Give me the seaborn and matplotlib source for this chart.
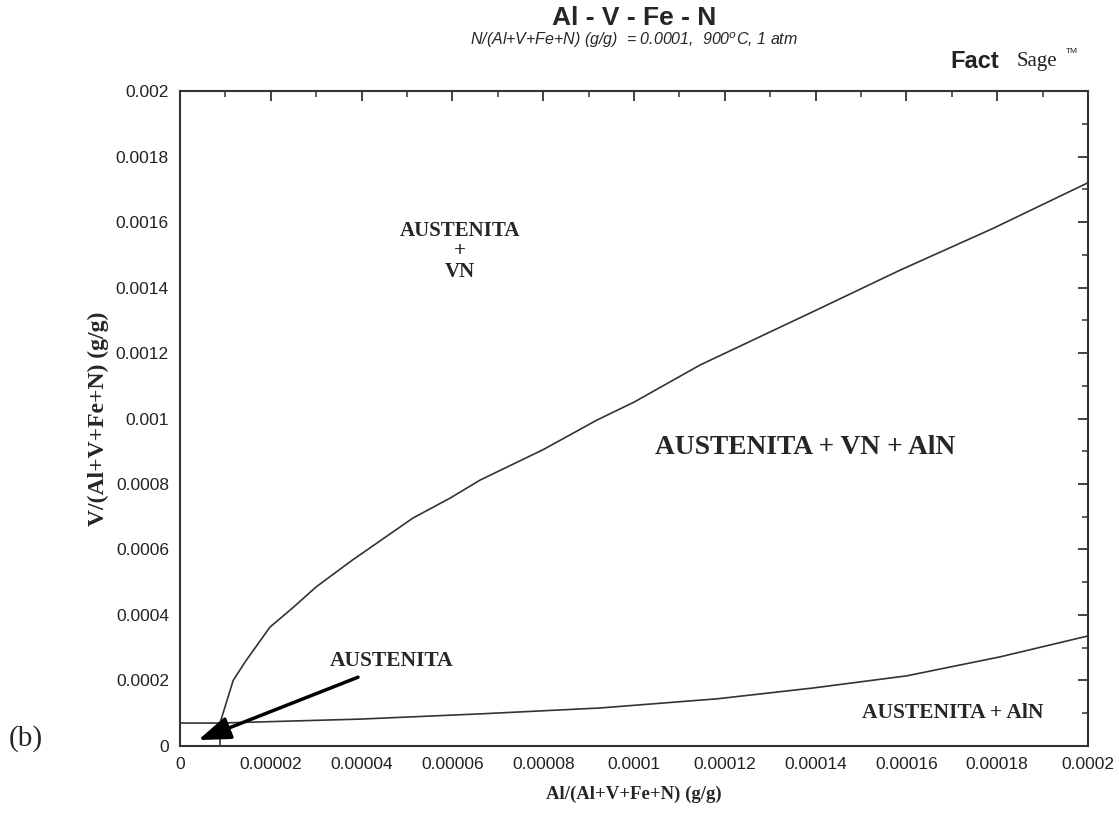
import matplotlib
matplotlib.use("Agg")
import matplotlib.pyplot as plt
import seaborn as sns
import pandas as pd
from matplotlib.ticker import MultipleLocator, FuncFormatter

# boundary AUSTENITA+VN / AUSTENITA+VN+AlN
upper_x = [0.0000088, 0.0000117, 0.0000143, 0.0000198, 0.000025, 0.00003, 0.000038,
           0.0000513, 0.0000595, 0.0000661, 0.00008, 0.0000918, 0.0001, 0.0001145,
           0.00014, 0.0001586, 0.000179, 0.0002]
upper_y = [0.00007, 0.0002, 0.000256, 0.000363, 0.000424, 0.000486, 0.000568,
           0.000696, 0.000757, 0.000812, 0.000905, 0.000995, 0.00105, 0.001163,
           0.00133, 0.001453, 0.00158, 0.00172]

# boundary AUSTENITA(+AlN) / AUSTENITA+VN+AlN
lower_x = [0.0, 0.0000088, 0.0000396, 0.0000661, 0.0000925, 0.0001183, 0.0001394,
           0.00016, 0.0001806, 0.0002]
lower_y = [0.00007, 0.00007, 0.000082, 0.000098, 0.000116, 0.000144, 0.000177,
           0.000214, 0.000272, 0.000336]

# small single-phase field edge
edge_x = [0.0000088, 0.0000088]
edge_y = [0.0, 0.00007]

df = pd.concat([
    pd.DataFrame({"al": upper_x, "v": upper_y, "curve": "upper"}),
    pd.DataFrame({"al": lower_x, "v": lower_y, "curve": "lower"}),
    pd.DataFrame({"al": edge_x, "v": edge_y, "curve": "edge"}),
])

sns.set_theme(style="white")
plt.rcParams["font.family"] = ["Liberation Sans", "DejaVu Sans"]

fig = plt.figure(figsize=(11.19, 8.15), dpi=100)
ax = fig.add_axes([0.1609, 0.0847, 0.8114, 0.8036])

sns.lineplot(data=df, x="al", y="v", units="curve", estimator=None, sort=False,
             color="#333333", linewidth=1.2, ax=ax)

ax.set_xlim(0, 0.0002)
ax.set_ylim(0, 0.002)
ax.xaxis.set_major_locator(MultipleLocator(0.00002))
ax.xaxis.set_minor_locator(MultipleLocator(0.00001))
ax.yaxis.set_major_locator(MultipleLocator(0.0002))
ax.yaxis.set_minor_locator(MultipleLocator(0.0001))
fmt = FuncFormatter(lambda v, p: "0" if abs(v) < 1e-12 else ("%.5f" % v).rstrip("0"))
ax.xaxis.set_major_formatter(fmt)
ax.yaxis.set_major_formatter(fmt)
ax.tick_params(which="both", direction="in", top=True, right=True,
               colors="#333333", labelcolor="#222222", labelsize=12.5)
ax.tick_params(which="major", length=7, width=1.3, pad=8)
ax.tick_params(which="minor", length=4, width=1.1)
for s in ax.spines.values():
    s.set_color("#333333")
    s.set_linewidth(1.5)

serif = ["Liberation Serif", "DejaVu Serif"]
ax.set_xlabel("Al/(Al+V+Fe+N) (g/g)", family=serif, fontweight="bold", fontsize=13.5, labelpad=10)
ax.set_ylabel("V/(Al+V+Fe+N) (g/g)", family=serif, fontweight="bold", fontsize=17, labelpad=5)

fig.text(0.5667, 0.969, "Al - V - Fe - N", ha="center", va="baseline", fontsize=19,
         fontweight="bold")
fig.text(0.5667, 0.9445, "N/(Al+V+Fe+N) (g/g)  = 0.0001,  900$^{o}$C, 1 atm", ha="center",
         va="baseline", fontsize=11.5, style="italic")
fig.text(0.871, 0.925, "Fact", ha="center", va="center", fontsize=17, fontweight="heavy",
         color="#222222")
fig.text(0.927, 0.925, "Sage", ha="center", va="center", fontsize=15, family=serif,
         color="#222222")
fig.text(0.958, 0.937, "TM", ha="center", va="center", fontsize=6, color="#222222")

ax.text(0.0000617, 0.00151, "AUSTENITA\n+\nVN", ha="center", va="center", family=serif,
        fontweight="bold", fontsize=15, linespacing=1.05)
ax.text(0.0001377, 0.00091, "AUSTENITA + VN + AlN", ha="center", va="center", family=serif,
        fontweight="bold", fontsize=19.8)
ax.text(0.0000467, 0.00026, "AUSTENITA", ha="center", va="center", family=serif,
        fontweight="bold", fontsize=15.5)
ax.text(0.0001703, 0.0001, "AUSTENITA + AlN", ha="center", va="center", family=serif,
        fontweight="bold", fontsize=15.5)
ax.annotate("", xy=(0.000004, 0.000018), xytext=(0.0000392, 0.00021),
            arrowprops=dict(arrowstyle="-|>,head_length=1.4,head_width=0.5", color="black",
                            lw=2.5, shrinkA=0, shrinkB=0, mutation_scale=14))

fig.text(0.008, 0.094, "(b)", family=serif, fontsize=21, va="center")

plt.savefig("out.png", dpi=100)
